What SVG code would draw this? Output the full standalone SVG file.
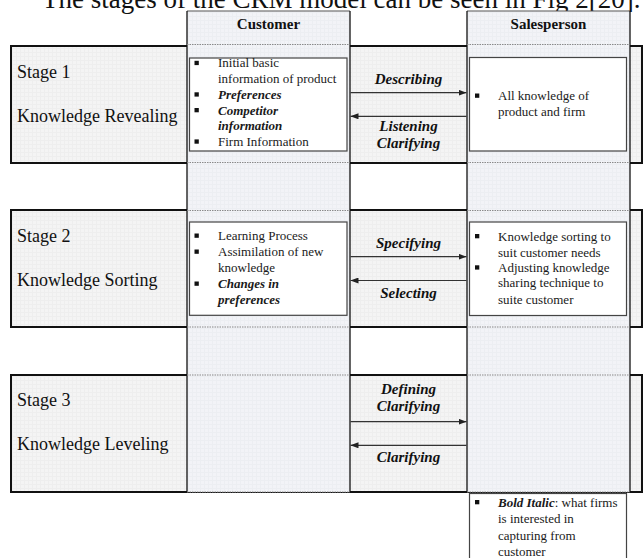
<svg xmlns="http://www.w3.org/2000/svg" width="643" height="558" viewBox="0 0 643 558">
<defs>
<pattern id="gridS" width="4" height="4" patternUnits="userSpaceOnUse">
<rect width="4" height="4" fill="#f4f4f4"/>
<path d="M0 0.5H4M0.5 0V4" stroke="#eeeeee" stroke-width="1"/>
</pattern>
<pattern id="gridC" width="4" height="4" patternUnits="userSpaceOnUse">
<rect width="4" height="4" fill="#f2f3f7"/>
<path d="M0 0.5H4M0.5 0V4" stroke="#eceef2" stroke-width="1"/>
</pattern>
<marker id="ah" viewBox="0 0 8 6" refX="8" refY="3" markerWidth="8" markerHeight="6" markerUnits="userSpaceOnUse" orient="auto">
<path d="M0 0L8 3L0 6Z" fill="#222"/>
</marker>
</defs>
<style>
.t{font-family:"Liberation Serif","Times New Roman",serif;fill:#111}
.title{font-size:27px}
.stage{font-size:18px}
.hdr{font-size:15px;font-weight:bold;text-anchor:middle}
.li{font-size:13px;fill:#1a1a1a}
.bi{font-weight:bold;font-style:italic}
.lab{font-size:15px;font-weight:bold;font-style:italic;text-anchor:middle}
.row{fill:url(#gridS);stroke:#111;stroke-width:2}
.col{fill:url(#gridC);stroke:none}
.vline{stroke:#111;stroke-width:1.3}
.dot{stroke:#8a8a8a;stroke-width:1.2;stroke-dasharray:1.5 1}
.box{fill:#fff;stroke:#444;stroke-width:1.2}
.bul{fill:#111}
.arr{stroke:#333;stroke-width:1.2;fill:none;marker-end:url(#ah)}
</style>
<rect width="643" height="558" fill="#fff"/>
<text class="t title" x="42" y="8">The stages of the CRM model can be seen in Fig 2[20].</text>

<g id="stage1-row">
<rect class="row" x="11" y="46" width="631" height="117"/>
<text class="t stage" x="17" y="78">Stage 1</text>
<text class="t stage" x="17" y="122">Knowledge Revealing</text>
</g>
<g id="stage2-row">
<rect class="row" x="11" y="210" width="631" height="117"/>
<text class="t stage" x="17" y="242">Stage 2</text>
<text class="t stage" x="17" y="286">Knowledge Sorting</text>
</g>
<g id="stage3-row">
<rect class="row" x="11" y="375" width="631" height="117"/>
<text class="t stage" x="17" y="406">Stage 3</text>
<text class="t stage" x="17" y="450">Knowledge Leveling</text>
</g>

<g id="customer-lane">
<rect class="col" x="187" y="11" width="163" height="481"/>
<line x1="187" y1="11" x2="350" y2="11" stroke="#555" stroke-width="1.2"/>
<line class="vline" x1="187" y1="11" x2="187" y2="492"/>
<line class="vline" x1="350" y1="11" x2="350" y2="492"/>
<path class="dot" d="M187 44.5H350M187 162.5H350M187 210.5H350M187 327H350M187 375H350M187 492H350"/>
<text class="t hdr" x="268.5" y="29">Customer</text>
</g>
<g id="salesperson-lane">
<rect class="col" x="467" y="11" width="163" height="481"/>
<line x1="467" y1="11" x2="630" y2="11" stroke="#555" stroke-width="1.2"/>
<line class="vline" x1="467" y1="11" x2="467" y2="492"/>
<line class="vline" x1="630" y1="11" x2="630" y2="492"/>
<path class="dot" d="M467 44.5H630M467 162.5H630M467 210.5H630M467 327H630M467 375H630M467 492H630"/>
<text class="t hdr" x="548.5" y="29">Salesperson</text>
</g>

<g id="customer-stage1">
<rect class="box" x="189.5" y="58" width="157.5" height="93"/>
<rect class="bul" x="194.5" y="60.8" width="4.3" height="4.3"/>
<text class="t li" x="218" y="67.3">Initial basic</text>
<text class="t li" x="218" y="83">information of product</text>
<rect class="bul" x="194.5" y="92.3" width="4.3" height="4.3"/>
<text class="t li bi" x="218" y="98.8">Preferences</text>
<rect class="bul" x="194.5" y="108" width="4.3" height="4.3"/>
<text class="t li bi" x="218" y="114.5">Competitor</text>
<text class="t li bi" x="218" y="130.2">information</text>
<rect class="bul" x="194.5" y="139.4" width="4.3" height="4.3"/>
<text class="t li" x="218" y="145.9">Firm Information</text>
</g>

<g id="salesperson-stage1">
<rect class="box" x="469.5" y="57.5" width="157" height="93.5"/>
<rect class="bul" x="475" y="93.5" width="4.3" height="4.3"/>
<text class="t li" x="498" y="100">All knowledge of</text>
<text class="t li" x="498" y="116">product and firm</text>
</g>

<g id="customer-stage2">
<rect class="box" x="189.5" y="222" width="157.5" height="93.3"/>
<rect class="bul" x="194.5" y="233.5" width="4.3" height="4.3"/>
<text class="t li" x="218" y="240">Learning Process</text>
<rect class="bul" x="194.5" y="249.5" width="4.3" height="4.3"/>
<text class="t li" x="218" y="256">Assimilation of new</text>
<text class="t li" x="218" y="271.7">knowledge</text>
<rect class="bul" x="194.5" y="281.5" width="4.3" height="4.3"/>
<text class="t li bi" x="218" y="288">Changes in</text>
<text class="t li bi" x="218" y="303.5">preferences</text>
</g>

<g id="salesperson-stage2">
<rect class="box" x="469.5" y="222" width="157" height="93.5"/>
<rect class="bul" x="475" y="234" width="4.3" height="4.3"/>
<text class="t li" x="498" y="240.5">Knowledge sorting to</text>
<text class="t li" x="498" y="256.5">suit customer needs</text>
<rect class="bul" x="475" y="265.3" width="4.3" height="4.3"/>
<text class="t li" x="498" y="271.8">Adjusting knowledge</text>
<text class="t li" x="498" y="287.3">sharing technique to</text>
<text class="t li" x="498" y="303.5">suite customer</text>
</g>

<g id="legend">
<rect class="box" x="469.5" y="493.5" width="157" height="80"/>
<rect class="bul" x="475" y="500" width="4.3" height="4.3"/>
<text class="t li" x="498" y="506.7"><tspan class="bi">Bold Italic</tspan>: what firms</text>
<text class="t li" x="498" y="523">is interested in</text>
<text class="t li" x="498" y="539.5">capturing from</text>
<text class="t li" x="498" y="556">customer</text>
</g>

<g id="connectors">
<line class="arr" x1="350.5" y1="92.7" x2="466.5" y2="92.7"/>
<line class="arr" x1="466.5" y1="116.3" x2="350.5" y2="116.3"/>
<line class="arr" x1="350.5" y1="256.7" x2="466.5" y2="256.7"/>
<line class="arr" x1="466.5" y1="280.5" x2="350.5" y2="280.5"/>
<line class="arr" x1="350.5" y1="421.7" x2="466.5" y2="421.7"/>
<line class="arr" x1="466.5" y1="445.3" x2="350.5" y2="445.3"/>
<g id="connector-labels">
<text class="t lab" x="408.5" y="84">Describing</text>
<text class="t lab" x="408.5" y="131">Listening</text>
<text class="t lab" x="408.5" y="148">Clarifying</text>
<text class="t lab" x="408.5" y="248">Specifying</text>
<text class="t lab" x="408.5" y="298">Selecting</text>
<text class="t lab" x="408.5" y="394">Defining</text>
<text class="t lab" x="408.5" y="411">Clarifying</text>
<text class="t lab" x="408.5" y="462">Clarifying</text>
</g>
</g>
</svg>
